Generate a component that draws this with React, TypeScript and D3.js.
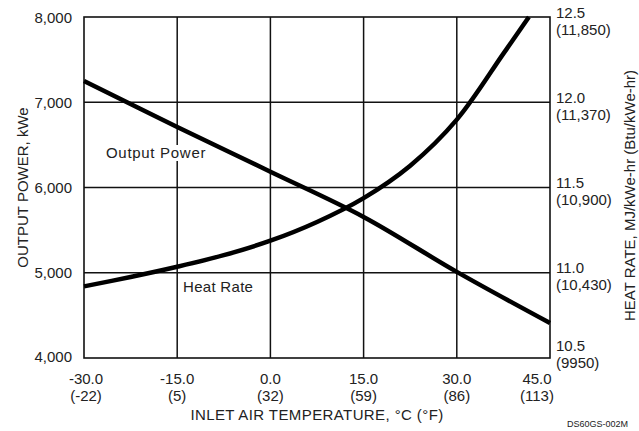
import React from "react";
import * as d3 from "d3";

const xTicksC = [-30, -15, 0, 15, 30, 45];
const xTicksF = ["(-22)", "(5)", "(32)", "(59)", "(86)", "(113)"];
const yLeftTicks = [4000, 5000, 6000, 7000, 8000];
const yRightTicks = [10.5, 11.0, 11.5, 12.0, 12.5];
const yRightBtu = ["(9950)", "(10,430)", "(10,900)", "(11,370)", "(11,850)"];

const powerTemps = [-30, -15, 0, 15, 30, 45];
const powerValues = [7250, 6710, 6185, 5655, 5010, 4410];

const heatTemps = [-30, -22.5, -15, -7.5, 0, 7.5, 15, 22.5, 30, 37.5, 41.6];
const heatValues = [10.92, 10.975, 11.035, 11.103, 11.188, 11.298, 11.438, 11.628, 11.898, 12.285, 12.5];

const W = 639;
const H = 431;
const L = 84;
const R = 550;
const T = 17;
const B = 358;
const FONT = "'Liberation Sans', Arial, sans-serif";
const TXT = "#222";

export default function App() {
  const x = d3.scaleLinear().domain([-30, 45]).range([L, R]);
  const yL = d3.scaleLinear().domain([4000, 8000]).range([B, T]);
  const yR = d3.scaleLinear().domain([10.5, 12.5]).range([B, T]);

  const powerLine = d3
    .line<number>()
    .x((_, i) => x(powerTemps[i]))
    .y((d) => yL(d))
    .curve(d3.curveCatmullRom.alpha(0.5));
  const heatLine = d3
    .line<number>()
    .x((_, i) => x(heatTemps[i]))
    .y((d) => yR(d))
    .curve(d3.curveCatmullRom.alpha(0.5));

  const fmt = d3.format(",");

  return (
    <svg
      width={W}
      height={H}
      style={{ position: "fixed", left: 0, top: 0, background: "#fff" }}
      fontFamily={FONT}
    >
      <rect x={0} y={0} width={W} height={H} fill="#fff" />
      {/* grid */}
      {xTicksC.slice(1, -1).map((t) => (
        <line key={"gx" + t} x1={x(t)} x2={x(t)} y1={T} y2={B} stroke="#111" strokeWidth={1.5} />
      ))}
      {yLeftTicks.slice(1, -1).map((t) => (
        <line key={"gy" + t} x1={L} x2={R} y1={yL(t)} y2={yL(t)} stroke="#111" strokeWidth={1.5} />
      ))}
      <rect x={L} y={T} width={R - L} height={B - T} fill="none" stroke="#111" strokeWidth={1.6} />

      {/* curves */}
      <path d={powerLine(powerValues) || ""} fill="none" stroke="#000" strokeWidth={4.5} />
      <path d={heatLine(heatValues) || ""} fill="none" stroke="#000" strokeWidth={4.5} />

      {/* series labels */}
      <rect x={104} y={145} width={104} height={16} fill="#fff" />
      <text x={106} y={158} fontSize={15} fill={TXT} letterSpacing={0.7}>
        Output Power
      </text>
      <text x={183} y={292} fontSize={15} fill={TXT} letterSpacing={0.3}>
        Heat Rate
      </text>

      {/* left axis */}
      {yLeftTicks.map((t) => (
        <text
          key={"yl" + t}
          x={72}
          y={yL(t) - (t === 4000 ? 2 : 0)}
          fontSize={15}
          fill={TXT}
          textAnchor="end"
          dominantBaseline="central"
        >
          {fmt(t)}
        </text>
      ))}
      <text
        transform={`translate(22,${(T + B) / 2}) rotate(-90)`}
        fontSize={15}
        fill={TXT}
        textAnchor="middle"
        dominantBaseline="central"
      >
        OUTPUT POWER, kWe
      </text>

      {/* right axis */}
      {yRightTicks.map((t, i) => {
        const base = yR(t) - (i === 0 ? 8 : 0);
        return (
          <g key={"yr" + t}>
            <text x={556} y={base - 5} fontSize={15} fill={TXT} dominantBaseline="central">
              {t.toFixed(1)}
            </text>
            <text x={556} y={base + 12} fontSize={15} fill={TXT} dominantBaseline="central">
              {yRightBtu[i]}
            </text>
          </g>
        );
      })}
      <text
        transform={`translate(629,${(T + B) / 2 + 8}) rotate(-90)`}
        fontSize={15}
        fill={TXT}
        textAnchor="middle"
        dominantBaseline="central"
      >
        HEAT RATE, MJ/kWe-hr (Btu/kWe-hr)
      </text>

      {/* bottom axis */}
      {xTicksC.map((t, i) => {
        const cx = x(t) + (i === 0 ? 2 : i === xTicksC.length - 1 ? -13 : 0);
        return (
          <g key={"xb" + t}>
            <text x={cx} y={378} fontSize={15} fill={TXT} textAnchor="middle" dominantBaseline="central">
              {t.toFixed(1)}
            </text>
            <text x={cx} y={395} fontSize={15} fill={TXT} textAnchor="middle" dominantBaseline="central">
              {xTicksF[i]}
            </text>
          </g>
        );
      })}
      <text
        x={(L + R) / 2}
        y={414}
        fontSize={15}
        fill={TXT}
        textAnchor="middle"
        dominantBaseline="central"
        letterSpacing={0.4}
      >
        INLET AIR TEMPERATURE, °C (°F)
      </text>
      <text x={628} y={424} fontSize={9} fill={TXT} textAnchor="end" dominantBaseline="central">
        DS60GS-002M
      </text>
    </svg>
  );
}
